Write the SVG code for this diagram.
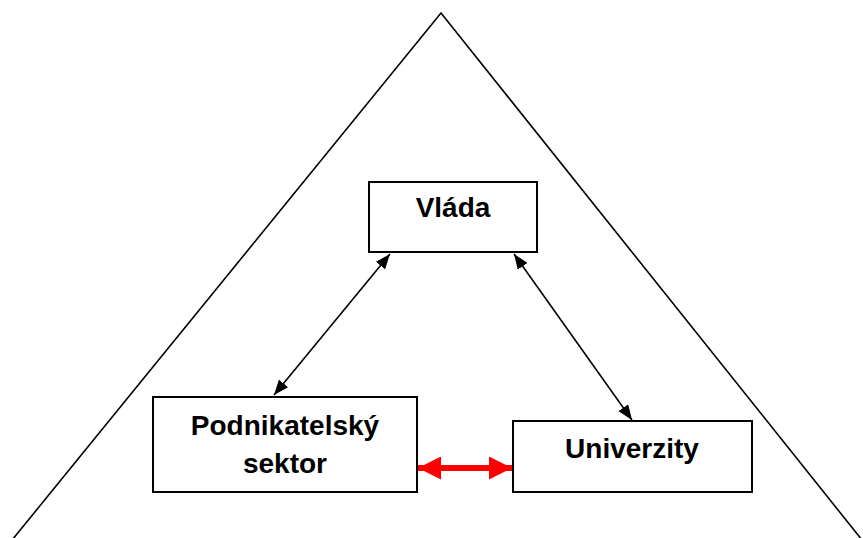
<svg xmlns="http://www.w3.org/2000/svg" width="863" height="538" viewBox="0 0 863 538">
  <style>
    .box { fill: #fff; stroke: #000; stroke-width: 2; }
    .lbl { font-family: "Liberation Sans", Arial, sans-serif; font-weight: bold; font-size: 28px; fill: #000; text-anchor: middle; }
    .link { stroke: #000; stroke-width: 1.6; fill: none; }
    .strong { stroke: #f00; stroke-width: 6; fill: none; }
  </style>
  <defs>
    <marker id="ah" viewBox="0 0 10 10" refX="10" refY="5" markerWidth="15" markerHeight="12" markerUnits="userSpaceOnUse" orient="auto-start-reverse" preserveAspectRatio="none">
      <path d="M0,0 L10,5 L0,10 z" fill="#000"/>
    </marker>
    <marker id="ahr" viewBox="0 0 10 10" refX="10" refY="5" markerWidth="23" markerHeight="23" markerUnits="userSpaceOnUse" orient="auto-start-reverse" preserveAspectRatio="none">
      <path d="M0,0 L10,5 L0,10 z" fill="#f00"/>
    </marker>
  </defs>

  <!-- outer triangle -->
  <path d="M8,545 L441,13 L866,545" fill="none" stroke="#000" stroke-width="1.6"/>

  <g id="connectors">
    <line class="link" x1="390" y1="254" x2="274" y2="395" marker-start="url(#ah)" marker-end="url(#ah)"/>
    <line class="link" x1="514" y1="254" x2="632" y2="420" marker-start="url(#ah)" marker-end="url(#ah)"/>
    <line class="strong" x1="418" y1="468" x2="512" y2="468" marker-start="url(#ahr)" marker-end="url(#ahr)"/>
  </g>

  <g id="vlada">
    <rect class="box" x="369" y="182" width="168" height="70"/>
    <text class="lbl" x="453" y="217">Vláda</text>
  </g>

  <g id="podnikatelsky-sektor">
    <rect class="box" x="153" y="397" width="264" height="95"/>
    <text class="lbl" x="285" y="435">Podnikatelský</text>
    <text class="lbl" x="285" y="473">sektor</text>
  </g>

  <g id="univerzity">
    <rect class="box" x="513" y="421" width="239" height="71"/>
    <text class="lbl" x="632" y="458">Univerzity</text>
  </g>
</svg>
